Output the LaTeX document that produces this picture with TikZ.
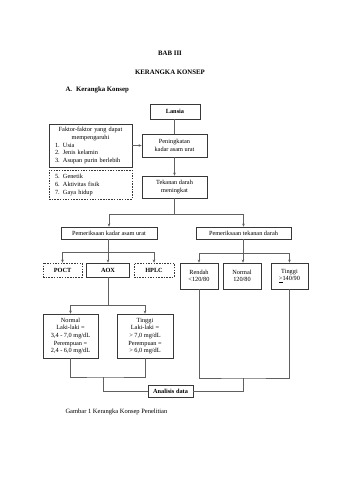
\documentclass[tikz,border=0pt]{standalone}
\usepackage{fontspec}
\setmainfont{Liberation Serif}
\usetikzlibrary{arrows.meta}
\newcommand\dgfont{\fontsize{6.3}{7.6}\selectfont}
\newcommand\numitem[2]{\makebox[71pt][l]{\makebox[8pt][l]{#1}#2}}
\colorlet{lineC}{black!62}
\colorlet{boxC}{black!78}
\tikzset{
  box/.style={draw=boxC, line width=0.7pt, inner sep=0pt, align=center, font=\dgfont},
  dbox/.style={box, dash pattern=on 1.5pt off 1.2pt},
  conn/.style={draw=lineC, line width=0.6pt},
  arr/.style={conn, -{Stealth[length=3pt,width=2.6pt]}},
  title/.style={font=\fontsize{6.8}{8}\selectfont\bfseries},
}
\begin{document}
\begin{tikzpicture}[x=1pt,y=-1pt]
\useasboundingbox[fill=white] (0,0) rectangle (339,480);

\node[title] (bab) at (170,53) {BAB III};
\node[title] (kk) at (170,72) {KERANGKA KONSEP};
\node[title, anchor=west] (sub) at (62,90) {A.\hspace{4pt}Kerangka Konsep};

\node[box, minimum width=50, minimum height=15, font=\dgfont\bfseries] (lansia) at (175,111.5) {Lansia};
\node[box, minimum width=65, minimum height=23] (ping) at (174.5,145.5) {Peningkatan\\kadar asam urat};
\node[box, minimum width=83, minimum height=43, text width=71pt, inner xsep=6pt,
      font=\fontsize{6.3}{7.7}\selectfont] (faktor) at (90.5,145.5)
  {Faktor-faktor yang dapat\\mempengaruhi\\
   \numitem{1.}{Usia}\\ \numitem{2.}{Jenis kelamin}\\ \numitem{3.}{Asupan purin berlebih}};
\node[dbox, minimum height=29, text width=71pt, inner xsep=6pt, align=left,
      font=\fontsize{6.3}{8}\selectfont] (faktor2) at (90.5,184.5)
  {\makebox[8pt][l]{5.}Genetik\\ \makebox[8pt][l]{6.}Aktivitas fisik\\ \makebox[8pt][l]{7.}Gaya hidup};
\node[box, minimum width=65, minimum height=22] (tek) at (174.5,187) {Tekanan darah\\meningkat};

\node[box, minimum width=96, minimum height=12] (pk) at (109,233) {Pemeriksaan kadar asam urat};
\node[box, minimum width=95, minimum height=12] (pt) at (243.5,233) {Pemeriksaan tekanan darah};

\node[dbox, minimum width=39, minimum height=14, font=\dgfont\bfseries] (poct) at (62.5,270) {POCT};
\node[box, minimum width=43, minimum height=14, font=\dgfont\bfseries] (aox) at (108,270) {AOX};
\node[dbox, minimum width=40, minimum height=14, font=\dgfont\bfseries] (hplc) at (154,270) {HPLC};

\node[box, minimum width=38, minimum height=26] (rendah) at (199,276) {Rendah\\<120/80};
\node[box, minimum width=38, minimum height=26] (normt) at (242,276) {Normal\\120/80};
\node[box, minimum width=37, minimum height=26] (tinggit) at (289.5,276) {Tinggi\\\underline{>}140/90};

\node[box, minimum width=55, minimum height=44] (normu) at (70.5,336)
  {Normal\\Laki-laki =\\3,4 - 7,0 mg/dL\\Perempuan =\\2,4 - 6,0 mg/dL};
\node[box, minimum width=56, minimum height=44] (tinggiu) at (145,336)
  {Tinggi\\Laki-laki =\\> 7,0 mg/dL\\Perempuan =\\> 6,0 mg/dL};

\node[box, minimum width=45, minimum height=12, font=\dgfont\bfseries] (analisis) at (170.5,391) {Analisis data};

\node[anchor=west, font=\fontsize{6.5}{8}\selectfont] (cap) at (62,412) {Gambar 1 Kerangka Konsep Penelitian};

% connectors
\coordinate (j1) at (174.5,214);
\coordinate (j2) at (108,252);
\coordinate (j3) at (243,253);
\coordinate (j4) at (108,305);
\coordinate (j5) at (103,377);
\coordinate (j6) at (243,378);

\draw[conn] (lansia.south -| ping.north) -- (ping.north);
\draw[arr] (faktor.east) -- (ping.west);
\draw[arr] (ping.south) -- (tek.north);
\draw[conn] (tek.south) -- (j1);
\draw[arr] (j1) -| (pk.north);
\draw[arr] (j1) -| (pt.north);

\draw[arr] (aox.north |- pk.south) -- (aox.north);
\draw[arr] (j2) -| (poct.north);
\draw[arr] (j2) -| (hplc.north);

\draw[conn] (pt.south -| j3) -- (j3);
\draw[arr] (j3) -| (rendah.north);
\draw[arr] (j3) -- (j3 |- normt.north);
\draw[arr] (j3) -| (tinggit.north);

\draw[conn] (aox.south) -- (j4);
\draw[arr] (j4) -| (normu.north);
\draw[arr] (j4) -| (tinggiu.north);

\draw[conn] (normu.south) |- (j5) -| (tinggiu.south);
\draw[conn] (j5) |- (analisis.west);
\draw[conn] (rendah.south) |- (j6) -| (tinggit.south);
\draw[conn] (j6) |- (analisis.east);
\end{tikzpicture}
\end{document}
